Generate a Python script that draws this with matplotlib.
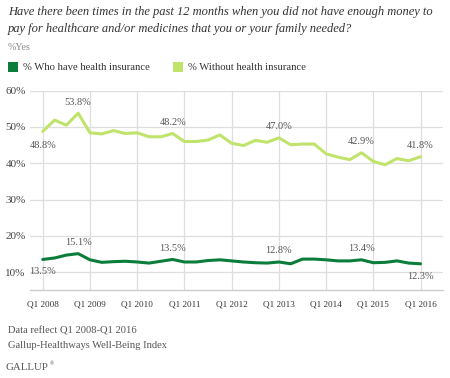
import matplotlib
matplotlib.use("Agg")
import matplotlib.pyplot as plt
from matplotlib.patches import Rectangle

quarters = [f"Q{q} {y}" for y in range(2008, 2016) for q in range(1, 5)] + ["Q1 2016"]
with_ins = [13.5, 13.9, 14.7, 15.1, 13.4, 12.7, 12.9, 13.0, 12.8, 12.5, 13.0, 13.5,
            12.8, 12.8, 13.2, 13.4, 13.1, 12.8, 12.6, 12.5, 12.8, 12.3, 13.6, 13.6,
            13.4, 13.1, 13.1, 13.4, 12.6, 12.7, 13.1, 12.5, 12.3]
without_ins = [48.8, 51.9, 50.5, 53.8, 48.4, 48.1, 49.0, 48.2, 48.4, 47.3, 47.3, 48.2,
               46.0, 46.0, 46.4, 47.8, 45.5, 44.9, 46.3, 45.8, 47.0, 45.1, 45.3, 45.3,
               42.6, 41.7, 41.0, 42.9, 40.5, 39.6, 41.3, 40.7, 41.8]
tick_labels = ["Q1 2008", "Q1 2009", "Q1 2010", "Q1 2011", "Q1 2012",
               "Q1 2013", "Q1 2014", "Q1 2015", "Q1 2016"]
y_ticks = [10, 20, 30, 40, 50, 60]
series_names = ["% Who have health insurance", "% Without health insurance"]
# labelled points: (index, offset in points)
labels_with = [(0, (0, -9)), (3, (0, 8)), (11, (0, 8)), (20, (0, 8)), (27, (0, 8)), (32, (0, -9))]
labels_without = [(0, (0, -10)), (3, (0, 8)), (11, (0, 8)), (20, (0, 8)), (27, (0, 8)), (32, (0, 8))]

DARK = "#0b7d3b"
LIGHT = "#c0e36c"
GRAY = "#555555"
SERIF = ["Liberation Serif", "DejaVu Serif"]
plt.rcParams["font.family"] = SERIF

fig = plt.figure(figsize=(4.5, 3.78), dpi=100)
W, H = 450, 378
ax = fig.add_axes([30 / W, 1 - 290.3 / H, (443 - 30) / W, (290.3 - 90.7) / H])

x = list(range(len(quarters)))
ax.plot(x, without_ins, color=LIGHT, lw=2.2, solid_capstyle="round", zorder=3)
ax.plot(x, with_ins, color=DARK, lw=2.2, solid_capstyle="round", zorder=3)

ax.set_xlim(-1.08, 33.9)
ax.set_ylim(5, 60)
tick_pos = [quarters.index(t) for t in tick_labels]
ax.set_xticks(tick_pos)
ax.set_xticklabels(tick_labels, fontsize=6.6, color="#333333")
ax.set_yticks(y_ticks)
ax.set_yticklabels([f"{v}%" for v in y_ticks], fontsize=8, color="#444444")
ax.tick_params(length=0, pad=3)
ax.tick_params(axis="x", pad=7)
ax.grid(True, color="#dedede", lw=0.9)
ax.set_axisbelow(True)
for s in ["top", "right", "left"]:
    ax.spines[s].set_visible(False)
ax.spines["bottom"].set_color("#cccccc")
ax.spines["bottom"].set_linewidth(1)

for series, labs in ((with_ins, labels_with), (without_ins, labels_without)):
    for i, off in labs:
        ax.annotate(f"{series[i]:.1f}%", (i, series[i]), xytext=off, textcoords="offset points",
                    ha="center", va="center", fontsize=7.5, color=GRAY, zorder=4)

fig.text(8 / W, 1 - 12 / H, "Have there been times in the past 12 months when you did not have enough money to",
         fontsize=9.0, style="italic", color="#333333", va="center")
fig.text(8 / W, 1 - 29 / H, "pay for healthcare and/or medicines that you or your family needed?",
         fontsize=9.0, style="italic", color="#333333", va="center")
fig.text(8 / W, 1 - 47 / H, "%Yes", fontsize=7.2, color="#888888", va="center")

for (lx, name, col) in ((8, series_names[0], DARK), (173, series_names[1], LIGHT)):
    fig.patches.append(Rectangle((lx / W, 1 - 72 / H), 10 / W, 10 / H, transform=fig.transFigure,
                                 facecolor=col, edgecolor="none"))
    fig.text((lx + 15) / W, 1 - 67 / H, name, fontsize=7.7, color="#333333", va="center")

fig.text(8 / W, 1 - 331 / H, "Data reflect Q1 2008-Q1 2016", fontsize=7.6, color=GRAY, va="center")
fig.text(8 / W, 1 - 346 / H, "Gallup-Healthways Well-Being Index", fontsize=7.6, color=GRAY, va="center")
fig.text(6 / W, 1 - 367 / H, "GALLUP", fontsize=7.8, color=GRAY, va="center")
fig.text(50 / W, 1 - 364 / H, "®", fontsize=4, color=GRAY, va="center")

fig.savefig("out.png", dpi=100, facecolor="white")
